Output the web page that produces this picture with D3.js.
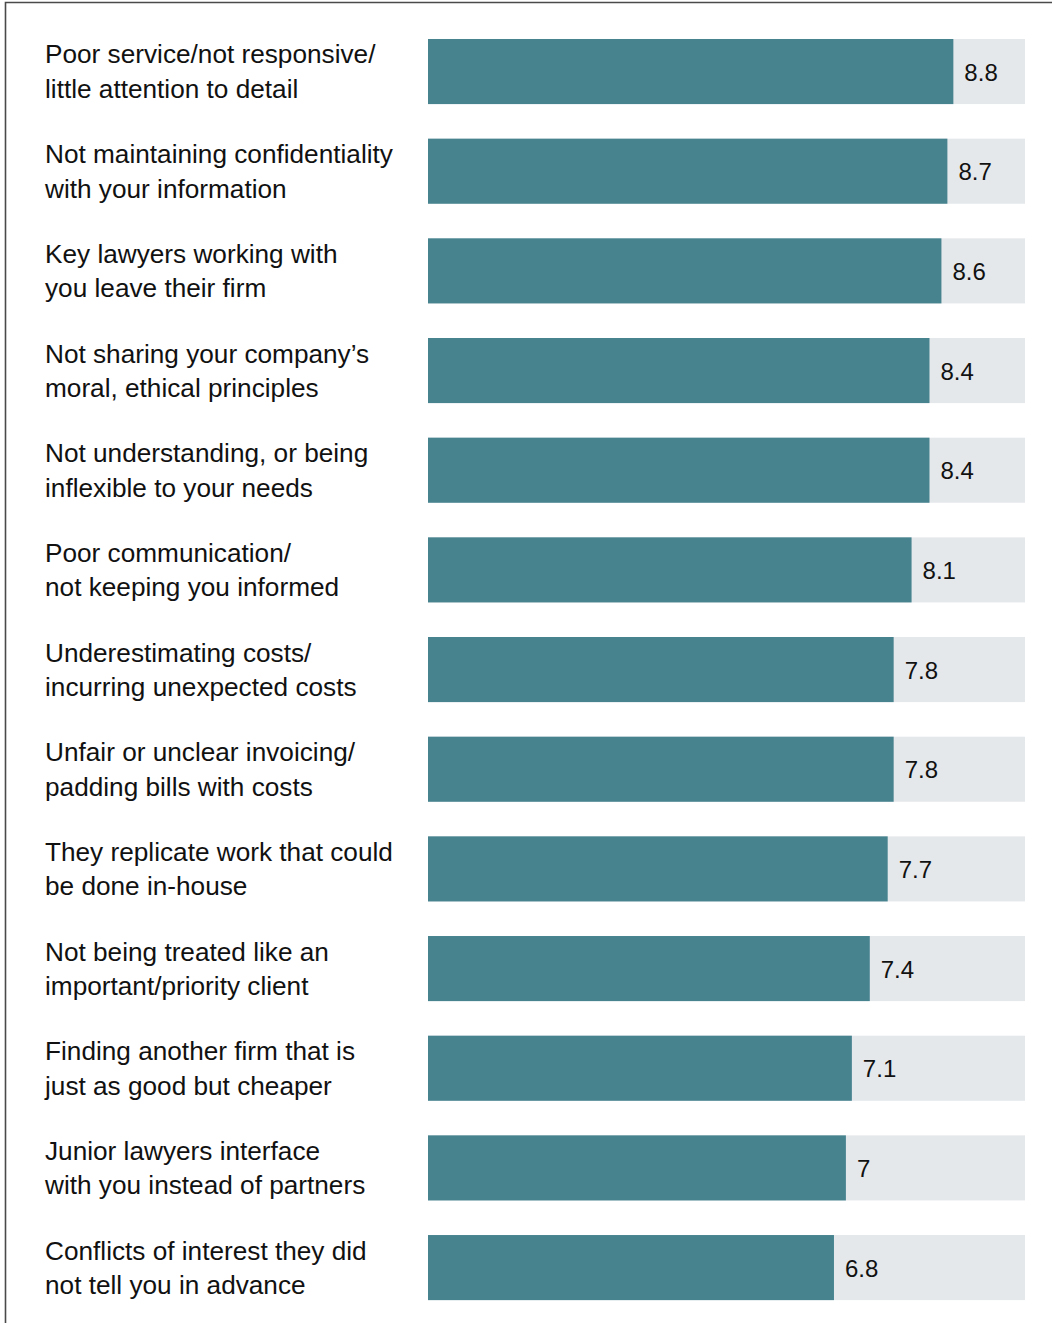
<!DOCTYPE html>
<html>
<head>
<meta charset="utf-8">
<script src="https://cdn.jsdelivr.net/npm/d3@7"></script>
<style>
  html, body { margin: 0; padding: 0; background: #fff; }
  svg { display: block; }
  text { font-family: "Liberation Sans", Arial, Helvetica, sans-serif; fill: #111; }
</style>
</head>
<body>
<div id="chart"></div>
<script>
// Reasons for switching law firms, average score out of 10
const reasons = [
  ["Poor service/not responsive/", "little attention to detail"],
  ["Not maintaining confidentiality", "with your information"],
  ["Key lawyers working with", "you leave their firm"],
  ["Not sharing your company’s", "moral, ethical principles"],
  ["Not understanding, or being", "inflexible to your needs"],
  ["Poor communication/", "not keeping you informed"],
  ["Underestimating costs/", "incurring unexpected costs"],
  ["Unfair or unclear invoicing/", "padding bills with costs"],
  ["They replicate work that could", "be done in-house"],
  ["Not being treated like an", "important/priority client"],
  ["Finding another firm that is", "just as good but cheaper"],
  ["Junior lawyers interface", "with you instead of partners"],
  ["Conflicts of interest they did", "not tell you in advance"]
];
const scores = [8.8, 8.7, 8.6, 8.4, 8.4, 8.1, 7.8, 7.8, 7.7, 7.4, 7.1, 7, 6.8];
const scaleMax = 10;

const W = 1052, H = 1323;
const svg = d3.select("#chart").append("svg")
  .attr("width", W).attr("height", H);

// frame: top and left rules
svg.append("path")
  .attr("d", `M5.5,${H} V2.5 H${W}`)
  .attr("fill", "none")
  .attr("stroke", "#4a4a4a")
  .attr("stroke-width", 1.6);

const x = d3.scaleLinear().domain([0, scaleMax]).range([428, 1025]);
const y = d3.scaleBand()
  .domain(d3.range(scores.length))
  .range([39 - 17.3, 39 - 17.3 + 99.67 * scores.length])
  .paddingInner(0.347)
  .paddingOuter(0.1735);

const rows = svg.selectAll("g.row")
  .data(scores)
  .join("g")
  .attr("class", "row")
  .attr("transform", (d, i) => `translate(0,${y(i)})`);

// background track
rows.append("rect")
  .attr("x", x(0))
  .attr("width", x(scaleMax) - x(0))
  .attr("height", y.bandwidth())
  .attr("fill", "#e5e8eb");

// value bar
rows.append("rect")
  .attr("x", x(0))
  .attr("width", d => x(d) - x(0))
  .attr("height", y.bandwidth())
  .attr("fill", "#46838f");

// value label
rows.append("text")
  .attr("x", d => x(d) + 11)
  .attr("y", y.bandwidth() / 2 + 9)
  .attr("font-size", 24)
  .text(d => d);

// category label, two lines
rows.append("text")
  .attr("x", 45)
  .attr("font-size", 26.2)
  .selectAll("tspan")
  .data((d, i) => reasons[i])
  .join("tspan")
  .attr("x", 45)
  .attr("y", (d, j) => 24.5 + j * 34.5)
  .text(d => d);
</script>
</body>
</html>
